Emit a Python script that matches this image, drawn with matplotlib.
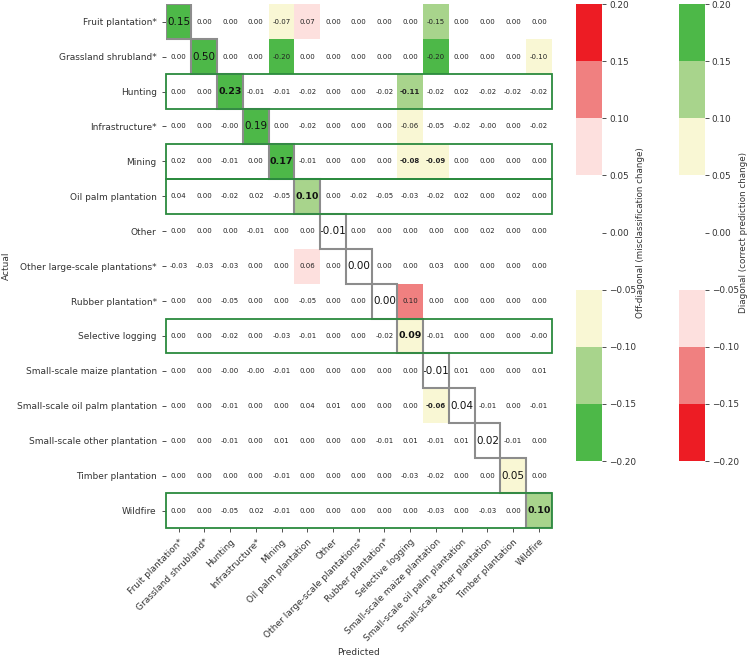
import numpy as np
import matplotlib.pyplot as plt
from matplotlib.colors import ListedColormap, BoundaryNorm
from matplotlib.patches import Rectangle
import matplotlib.cm as cm

labels = ['Fruit plantation*', 'Grassland shrubland*', 'Hunting', 'Infrastructure*', 'Mining',
          'Oil palm plantation', 'Other', 'Other large-scale plantations*', 'Rubber plantation*',
          'Selective logging', 'Small-scale maize plantation', 'Small-scale oil palm plantation',
          'Small-scale other plantation', 'Timber plantation', 'Wildfire']

# change in normalised confusion matrix (rows = actual, cols = predicted)
delta = np.array([
    [0.15, 0.00, 0.00, 0.00, -0.07, 0.07, 0.00, 0.00, 0.00, 0.00, -0.15, 0.00, 0.00, 0.00, 0.00],
    [0.00, 0.50, 0.00, 0.00, -0.20, 0.00, 0.00, 0.00, 0.00, 0.00, -0.20, 0.00, 0.00, 0.00, -0.10],
    [0.00, 0.00, 0.23, -0.01, -0.01, -0.02, 0.00, 0.00, -0.02, -0.11, -0.02, 0.02, -0.02, -0.02, -0.02],
    [0.00, 0.00, -0.001, 0.19, 0.00, -0.02, 0.00, 0.00, 0.00, -0.06, -0.05, -0.02, -0.001, 0.00, -0.02],
    [0.02, 0.00, -0.01, 0.00, 0.17, -0.01, 0.00, 0.00, 0.00, -0.08, -0.09, 0.00, 0.00, 0.00, 0.00],
    [0.04, 0.00, -0.02, 0.02, -0.05, 0.10, 0.00, -0.02, -0.05, -0.03, -0.02, 0.02, 0.00, 0.02, 0.00],
    [0.00, 0.00, 0.00, -0.01, 0.00, 0.00, -0.01, 0.00, 0.00, 0.00, 0.00, 0.00, 0.02, 0.00, 0.00],
    [-0.03, -0.03, -0.03, 0.00, 0.00, 0.06, 0.00, 0.00, 0.00, 0.00, 0.03, 0.00, 0.00, 0.00, 0.00],
    [0.00, 0.00, -0.05, 0.00, 0.00, -0.05, 0.00, 0.00, 0.00, 0.10, 0.00, 0.00, 0.00, 0.00, 0.00],
    [0.00, 0.00, -0.02, 0.00, -0.03, -0.01, 0.00, 0.00, -0.02, 0.09, -0.01, 0.00, 0.00, 0.00, -0.001],
    [0.00, 0.00, -0.001, -0.001, -0.01, 0.00, 0.00, 0.00, 0.00, 0.00, -0.01, 0.01, 0.00, 0.00, 0.01],
    [0.00, 0.00, -0.01, 0.00, 0.00, 0.04, 0.01, 0.00, 0.00, 0.00, -0.06, 0.04, -0.01, 0.00, -0.01],
    [0.00, 0.00, -0.01, 0.00, 0.01, 0.00, 0.00, 0.00, -0.01, 0.01, -0.01, 0.01, 0.02, -0.01, 0.00],
    [0.00, 0.00, 0.00, 0.00, -0.01, 0.00, 0.00, 0.00, 0.00, -0.03, -0.02, 0.00, 0.00, 0.05, 0.00],
    [0.00, 0.00, -0.05, 0.02, -0.01, 0.00, 0.00, 0.00, 0.00, 0.00, -0.03, 0.00, -0.03, 0.00, 0.10],
])

highlight_rows = [2, 4, 5, 9, 14]
bold_cells = [(2, 9), (4, 9), (4, 10), (11, 10)]

bounds = [-0.2, -0.15, -0.1, -0.05, 0.0, 0.05, 0.1, 0.15, 0.2]
green, lgreen, yellow = '#4db848', '#a8d48c', '#f9f7d4'
pink, salmon, red = '#fde0de', '#f08080', '#ed1c24'
cmap_off = ListedColormap([green, lgreen, yellow, 'white', 'white', pink, salmon, red])
cmap_diag = ListedColormap([red, salmon, pink, 'white', 'white', yellow, lgreen, green])
norm = BoundaryNorm(bounds, 8, clip=True)

n = len(labels)
eye = np.eye(n, dtype=bool)
off = np.ma.masked_where(eye, delta)
diag = np.ma.masked_where(~eye, delta)

fig = plt.figure(figsize=(7.5, 6.57), dpi=100)
ax = fig.add_axes([0.221, 0.1963, 0.5147, 0.7972])
ax.pcolormesh(off, cmap=cmap_off, norm=norm)
ax.pcolormesh(diag, cmap=cmap_diag, norm=norm)
ax.set_xlim(0, n)
ax.set_ylim(n, 0)

for i in range(n):
    for j in range(n):
        v = delta[i, j]
        txt = f'{v:.2f}'
        if i == j:
            bold = i in highlight_rows
            ax.text(j + 0.5, i + 0.5, txt, ha='center', va='center', color='#111111',
                    fontsize=6.8 if bold else 7.5, fontweight='bold' if bold else 'normal')
        else:
            bold = (i, j) in bold_cells
            ax.text(j + 0.5, i + 0.5, txt, ha='center', va='center', color='#222222',
                    fontsize=5.0, fontweight='bold' if bold else 'normal')

for i in range(n):
    ax.add_patch(Rectangle((i, i), 1, 1, fill=False, edgecolor='#8c8c8c', lw=1.5, zorder=3))
for r in highlight_rows:
    ax.add_patch(Rectangle((0, r), n, 1, fill=False, edgecolor='#2b8a3e', lw=1.3, zorder=4,
                           clip_on=False))

ax.set_xticks(np.arange(n) + 0.5)
ax.set_yticks(np.arange(n) + 0.5)
ax.set_xticklabels(labels, rotation=45, ha='right', rotation_mode='anchor', fontsize=6.5, color='#333333')
ax.set_yticklabels(labels, fontsize=6.5, color='#333333')
ax.tick_params(length=3, width=0.6, color='#333333')
for s in ax.spines.values():
    s.set_visible(False)
ax.set_xlabel('Predicted', fontsize=6.5, color='#333333')
ax.set_ylabel('Actual', fontsize=6.5, color='#333333')

ticks = [-0.2, -0.15, -0.1, -0.05, 0.0, 0.05, 0.1, 0.15, 0.2]
cax1 = fig.add_axes([0.768, 0.2983, 0.0347, 0.6956])
cb1 = fig.colorbar(cm.ScalarMappable(norm=norm, cmap=cmap_off), cax=cax1, ticks=ticks)
cb1.set_label('Off-diagonal (misclassification change)', fontsize=6.3, color='#333333', labelpad=0)
cax2 = fig.add_axes([0.905, 0.2983, 0.0347, 0.6956])
cb2 = fig.colorbar(cm.ScalarMappable(norm=norm, cmap=cmap_diag), cax=cax2, ticks=ticks)
cb2.set_label('Diagonal (correct prediction change)', fontsize=6.3, color='#333333', labelpad=0)
for cb in (cb1, cb2):
    cb.outline.set_visible(False)
    cb.ax.set_yticklabels([f'{t:.2f}'.replace('-', '\u2212') for t in ticks])
    cb.ax.tick_params(labelsize=6.4, length=3, width=0.6, colors='#333333', pad=2)

fig.savefig('out.png', dpi=100)
